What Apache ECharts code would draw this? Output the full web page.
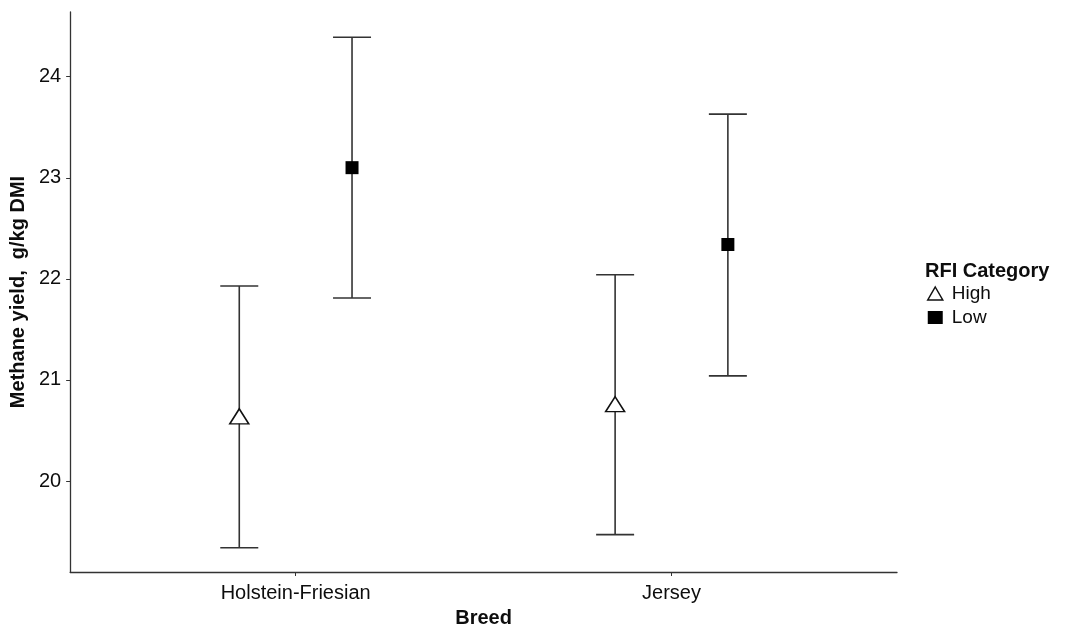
<!DOCTYPE html>
<html>
<head>
<meta charset="utf-8">
<script src="https://cdn.jsdelivr.net/npm/echarts@6/dist/echarts.min.js"></script>
<style>
  html, body { margin: 0; padding: 0; background: #fff; }
  #chart { width: 1065px; height: 633px; }
</style>
</head>
<body>
<div id="chart"></div>
<script>
// Breeds on the x axis and the two RFI groups drawn side by side
const categories = ['Holstein-Friesian', 'Jersey'];
const groups = ['High', 'Low'];

// Mean methane yield (g/kg DMI) with lower / upper error limits
const highMean  = [20.64, 20.76];
const highLower = [19.34, 19.47];
const highUpper = [21.93, 22.04];

const lowMean  = [23.10, 22.34];
const lowLower = [21.81, 21.04];
const lowUpper = [24.39, 23.63];

const yTicks = [20, 21, 22, 23, 24];

const FONT = "'Liberation Sans', Arial, sans-serif";
const DODGE = 0.15;       // horizontal shift of each group around the breed position
const CAP_PX = 38;        // whisker cap width in pixels
const INK = '#333';
const TEXT = '#0d0d0d';

function pointData(means, shift) {
  return means.map((m, i) => [i + 1 + shift, m]);
}
function barData(lower, upper, shift) {
  return lower.map((lo, i) => [i + 1 + shift, lo, upper[i]]);
}

function renderErrorBar(params, api) {
  const x = api.value(0);
  const lo = api.coord([x, api.value(1)]);
  const hi = api.coord([x, api.value(2)]);
  const half = CAP_PX / 2;
  const style = { stroke: INK, lineWidth: 1.6 };
  return {
    type: 'group',
    children: [
      { type: 'line', shape: { x1: lo[0], y1: lo[1], x2: hi[0], y2: hi[1] }, style },
      { type: 'line', shape: { x1: hi[0] - half, y1: hi[1], x2: hi[0] + half, y2: hi[1] }, style },
      { type: 'line', shape: { x1: lo[0] - half, y1: lo[1], x2: lo[0] + half, y2: lo[1] }, style }
    ]
  };
}

const chart = echarts.init(document.getElementById('chart'), null, { renderer: 'canvas' });

chart.setOption({
  animation: false,
  backgroundColor: '#fff',
  textStyle: { fontFamily: FONT },
  title: {
    text: 'RFI Category',
    left: 920,
    top: 256,
    textStyle: { fontFamily: FONT, fontSize: 20, fontWeight: 'bold', color: TEXT }
  },
  legend: {
    data: [
      { name: 'High', itemStyle: { color: '#fff', borderColor: '#111', borderWidth: 1.5 } },
      { name: 'Low', itemStyle: { color: '#000', borderWidth: 0 } }
    ],
    orient: 'vertical',
    left: 922,
    top: 279,
    itemWidth: 15,
    itemHeight: 13,
    itemGap: 5,
    textStyle: { fontFamily: FONT, fontSize: 19, color: TEXT, padding: [0, 0, 0, 4] }
  },
  grid: { left: 69, right: 168, top: 12, bottom: 57, containLabel: false },
  xAxis: {
    type: 'value',
    min: 0.4,
    max: 2.6,
    name: 'Breed',
    nameLocation: 'middle',
    nameGap: 36,
    nameTextStyle: { fontFamily: FONT, fontSize: 20, fontWeight: 'bold', color: TEXT },
    splitLine: { show: false },
    axisLine: { show: true, lineStyle: { color: INK, width: 1.3 } },
    axisTick: { show: true, length: 4, customValues: [1, 2], lineStyle: { color: INK } },
    axisLabel: {
      customValues: [1, 2],
      margin: 11,
      fontFamily: FONT,
      fontSize: 20,
      color: TEXT,
      formatter: v => categories[Math.round(v) - 1] || ''
    }
  },
  yAxis: {
    type: 'value',
    min: 19.1,
    max: 24.64,
    name: 'Methane yield,  g/kg DMI',
    nameLocation: 'middle',
    nameGap: 41,
    nameRotate: 90,
    nameTextStyle: { fontFamily: FONT, fontSize: 20, fontWeight: 'bold', color: TEXT },
    splitLine: { show: false },
    axisLine: { show: true, lineStyle: { color: INK, width: 1.3 } },
    axisTick: { show: true, length: 4, customValues: yTicks, lineStyle: { color: INK } },
    axisLabel: {
      customValues: yTicks,
      margin: 9,
      fontFamily: FONT,
      fontSize: 20,
      color: TEXT
    }
  },
  series: [
    {
      name: 'High-bars',
      type: 'custom',
      renderItem: renderErrorBar,
      data: barData(highLower, highUpper, -DODGE),
      z: 2,
      silent: true
    },
    {
      name: 'Low-bars',
      type: 'custom',
      renderItem: renderErrorBar,
      data: barData(lowLower, lowUpper, DODGE),
      z: 2,
      silent: true
    },
    {
      name: 'High',
      type: 'scatter',
      symbol: 'triangle',
      symbolSize: [19, 15],
      itemStyle: { color: '#fff', borderColor: '#111', borderWidth: 1.5, opacity: 1 },
      data: pointData(highMean, -DODGE),
      z: 5
    },
    {
      name: 'Low',
      type: 'scatter',
      symbol: 'rect',
      symbolSize: 13,
      itemStyle: { color: '#000', opacity: 1 },
      data: pointData(lowMean, DODGE),
      z: 5
    }
  ]
});
</script>
</body>
</html>
